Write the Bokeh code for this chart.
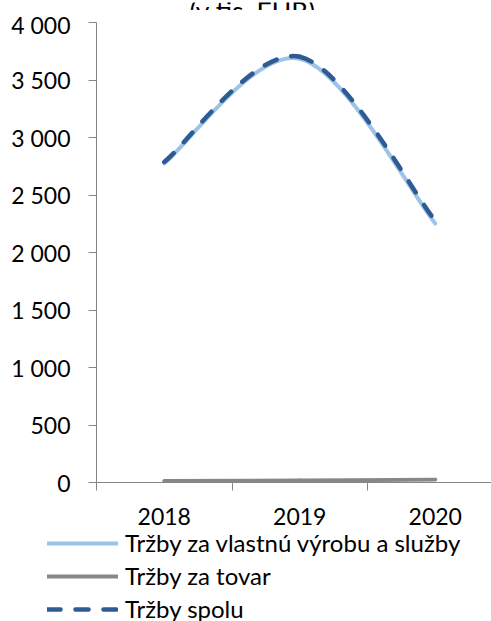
import numpy as np
from bokeh.plotting import figure
from bokeh.layouts import column
from bokeh.models import Range1d, FixedTicker, Label, Legend, LegendItem
from bokeh.embed import file_html
from bokeh.resources import INLINE

# ---- data ----
years = ["2018", "2019", "2020"]
trzby_vlastna = [2775, 3685, 2252]
trzby_tovar = [12, 17, 25]
trzby_spolu = [2787, 3702, 2277]
y_ticks = [0, 500, 1000, 1500, 2000, 2500, 3000, 3500, 4000]
y_tick_labels = ["0", "500", "1 000", "1 500", "2 000", "2 500", "3 000", "3 500", "4 000"]
series_names = ["Tržby za vlastnú výrobu a služby", "Tržby za tovar", "Tržby spolu"]
title_text = "(v tis. EUR)"

FONT = "Lato"
FS = "23px"
AXIS_COLOR = "#868686"

x_pos = np.arange(1, len(years) + 1, dtype=float)


def smooth_segments(xs, ys):
    """Catmull-Rom style cubic Bezier control points (like a smoothed line)."""
    xs = np.asarray(xs, float)
    ys = np.asarray(ys, float)
    n = len(xs)
    qx = np.concatenate([[xs[0]], xs, [xs[-1]]])
    qy = np.concatenate([[ys[0]], ys, [ys[-1]]])
    cx0 = qx[1:n] + (qx[2:n + 1] - qx[0:n - 1]) / 6.0
    cy0 = qy[1:n] + (qy[2:n + 1] - qy[0:n - 1]) / 6.0
    cx1 = qx[2:n + 1] - (qx[3:n + 2] - qx[1:n]) / 6.0
    cy1 = qy[2:n + 1] - (qy[3:n + 2] - qy[1:n]) / 6.0
    return dict(x0=xs[:-1], y0=ys[:-1], x1=xs[1:], y1=ys[1:],
                cx0=cx0, cy0=cy0, cx1=cx1, cy1=cy1)


def blank_figure(h):
    f = figure(width=491, height=h, output_backend="svg", toolbar_location=None,
               x_range=Range1d(0, 1), y_range=Range1d(0, 1), min_border=0,
               x_axis_location=None, y_axis_location=None)
    f.grid.visible = False
    f.outline_line_color = None
    f.frame_align = False
    return f


# ---- title strip (the title is cut at the top edge, as in the original) ----
p0 = blank_figure(10)
p0.add_layout(Label(x=252, y=1.5, x_units="screen", y_units="screen", text=title_text,
                    text_align="center", text_baseline="alphabetic",
                    text_font=FONT, text_font_size="26.5px", text_color="black"))

# ---- chart ----
p = figure(width=491, height=519, output_backend="svg", toolbar_location=None,
           x_range=Range1d(0.5, 3.415), y_range=Range1d(0, 4000),
           min_border_left=96, min_border_right=0, min_border_top=12,
           min_border_bottom=47)
p.frame_align = False
p.outline_line_color = None
p.xgrid.visible = False
p.ygrid.visible = False

styles = [
    dict(line_color="#9DC3E6", line_width=4, line_cap="round"),
    dict(line_color="#878787", line_width=4, line_cap="round"),
    dict(line_color="#2F5B94", line_width=4.5, line_cap="round", line_dash="13 15"),
]
for ys, st in zip([trzby_vlastna, trzby_tovar, trzby_spolu], styles):
    seg = smooth_segments(x_pos, ys)
    p.bezier(x0="x0", y0="y0", x1="x1", y1="y1", cx0="cx0", cy0="cy0",
             cx1="cx1", cy1="cy1", source=seg, **st)

xa = p.xaxis[0]
xa.ticker = FixedTicker(ticks=list(x_pos), minor_ticks=[0.5, 1.5, 2.5, 3.5])
xa.major_label_overrides = {float(x): y for x, y in zip(x_pos, years)}
xa.major_tick_line_color = None
xa.major_tick_in = 0
xa.major_tick_out = 0
xa.minor_tick_in = 0
xa.minor_tick_out = 8
xa.minor_tick_line_color = AXIS_COLOR
xa.axis_line_color = AXIS_COLOR
xa.major_label_standoff = 17
xa.major_label_text_font = FONT
xa.major_label_text_font_size = FS
xa.major_label_text_color = "black"

ya = p.yaxis[0]
ya.ticker = FixedTicker(ticks=y_ticks, minor_ticks=[])
ya.major_label_overrides = {t: l for t, l in zip(y_ticks, y_tick_labels)}
ya.major_tick_in = 0
ya.major_tick_out = 8
ya.major_tick_line_color = AXIS_COLOR
ya.minor_tick_line_color = None
ya.axis_line_color = AXIS_COLOR
ya.major_label_standoff = 18
ya.major_label_text_font = FONT
ya.major_label_text_font_size = FS
ya.major_label_text_color = "black"

# ---- legend strip below the chart ----
p2 = blank_figure(92)
legend_renderers = [p2.line(x=[np.nan], y=[np.nan], **st) for st in styles]
legend = Legend(items=[LegendItem(label=n, renderers=[r]) for n, r in zip(series_names, legend_renderers)],
                location=(47, -2.5), orientation="vertical", padding=0, margin=0,
                spacing=3, glyph_width=71, glyph_height=30, label_height=30,
                label_standoff=7, border_line_color=None, background_fill_alpha=0,
                label_text_font=FONT, label_text_font_size="24px", label_text_color="black")
p2.add_layout(legend)

layout = column(p0, p, p2, spacing=0)
open("out.html", "w").write(file_html(layout, INLINE))
